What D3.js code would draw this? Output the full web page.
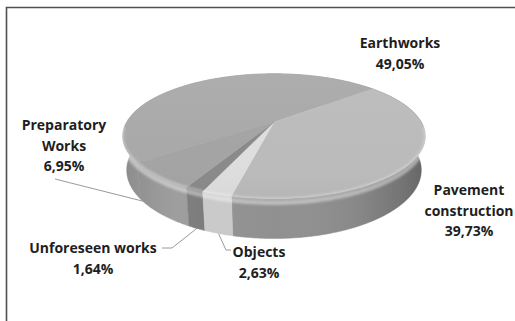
<!DOCTYPE html>
<html>
<head>
<meta charset="utf-8">
<script src="https://cdn.jsdelivr.net/npm/d3@7"></script>
<style>
  html, body { margin: 0; padding: 0; background: #fff; }
  svg { display: block; }
</style>
</head>
<body>
<script>
// Cost structure shares (percent)
const categories = ["Earthworks", "Pavement construction", "Objects", "Unforeseen works", "Preparatory Works"];
const shares = [49.05, 39.73, 2.63, 1.64, 6.95];
const nameLines = [["Earthworks"], ["Pavement", "construction"], ["Objects"], ["Unforeseen works"], ["Preparatory", "Works"]];
const valueLabels = ["49,05%", "39,73%", "2,63%", "1,64%", "6,95%"];

// Slice tones: top face and outer wall
const topColors  = ["#a9a9a9", "#bbbbbb", "#dedede", "#8a8a8a", "#a4a4a4"];
const wallColors = ["#9a9a9a", "#909090", "#c8c8c8", "#777777", "#989898"];

const W = 515, H = 321;
const deg = Math.PI / 180;

// Perspective view of a unit disk
const view = { cx: 274, cy: 122, f: 592, D: 4.02, tilt: 23.7 * deg, depth: 0.25 };

function project(theta, r, level) {
  const x3 = r * Math.sin(theta), z3 = -r * Math.cos(theta), y3 = level;
  const c = Math.cos(view.tilt), s = Math.sin(view.tilt);
  const Yp = y3 * c - z3 * s, Zp = y3 * s + z3 * c;
  const k = view.f / (view.D - Zp);
  return [view.cx + k * x3, view.cy - k * Yp];
}

function arcPoints(a0, a1, level) {
  const n = Math.max(2, Math.ceil(Math.abs(a1 - a0) / (0.5 * deg)));
  return d3.range(n + 1).map(i => project(a0 + (a1 - a0) * i / n, 1, level));
}

const data = categories.map((name, i) => ({ name, value: shares[i], i }));
const startA = 233.4 * deg;
const pie = d3.pie().value(d => d.value).sort(null)
  .startAngle(startA).endAngle(startA + 2 * Math.PI);
const arcs = pie(data);

const line = d3.line();

const svg = d3.select("body").append("svg")
  .attr("width", W).attr("height", H);

const defs = svg.append("defs");

// side shading: darker toward the left and right silhouettes
const sideGrad = defs.append("linearGradient")
  .attr("id", "sideShade").attr("gradientUnits", "userSpaceOnUse")
  .attr("x1", 123).attr("x2", 425).attr("y1", 0).attr("y2", 0);
[[0, "#000", 0.10], [0.18, "#fff", 0.06], [0.5, "#fff", 0.0], [0.78, "#000", 0.06], [0.93, "#000", 0.2], [1, "#000", 0.3]]
  .forEach(([o, c, a]) => sideGrad.append("stop").attr("offset", o).attr("stop-color", c).attr("stop-opacity", a));

// soft sheen on the top face
const topGrad = defs.append("linearGradient")
  .attr("id", "topShade").attr("gradientUnits", "userSpaceOnUse")
  .attr("x1", 0).attr("x2", 0).attr("y1", 73).attr("y2", 200);
[[0, "#fff", 0.05], [0.6, "#fff", 0.0], [1, "#000", 0.03]]
  .forEach(([o, c, a]) => topGrad.append("stop").attr("offset", o).attr("stop-color", c).attr("stop-opacity", a));

defs.append("filter").attr("id", "soft").attr("x", "-10%").attr("y", "-10%").attr("width", "120%").attr("height", "120%")
  .append("feGaussianBlur").attr("stdDeviation", 1.1);

// chart frame
svg.append("path")
  .attr("d", `M6.5,${H} V7.5 H${W}`)
  .attr("fill", "none").attr("stroke", "#505050").attr("stroke-width", 1.6);

const pieG = svg.append("g");
const h = view.depth;

// outer walls, far ones first
const walls = arcs.map(a => {
  const mid = (a.startAngle + a.endAngle) / 2;
  return { a, z: -Math.cos(mid) };
}).sort((p, q) => p.z - q.z);

pieG.selectAll("path.wall").data(walls).join("path")
  .attr("class", "wall")
  .attr("d", d => line([...arcPoints(d.a.startAngle, d.a.endAngle, 0),
                        ...arcPoints(d.a.startAngle, d.a.endAngle, -h).reverse()]) + "Z")
  .attr("fill", d => wallColors[d.a.data.i])
  .attr("stroke", d => wallColors[d.a.data.i]).attr("stroke-width", 0.5);

// wall shading across the whole band
pieG.append("path")
  .attr("d", line([...arcPoints(0, 2 * Math.PI, 0), ...arcPoints(0, 2 * Math.PI, -h).reverse()]) + "Z")
  .attr("fill", "url(#sideShade)");

// light bevel along the upper rim of the wall
pieG.append("path")
  .attr("d", line(arcPoints(80 * deg, 280 * deg, -0.025)))
  .attr("fill", "none").attr("stroke", "#fff").attr("stroke-opacity", 0.4)
  .attr("stroke-width", 4.5).attr("filter", "url(#soft)");

// top faces
const apex = project(0, 0, 0);
pieG.selectAll("path.top").data(arcs).join("path")
  .attr("class", "top")
  .attr("d", d => line([apex, ...arcPoints(d.startAngle, d.endAngle, 0)]) + "Z")
  .attr("fill", d => topColors[d.data.i])
  .attr("stroke", d => topColors[d.data.i]).attr("stroke-width", 0.5);

pieG.append("path")
  .attr("d", line(arcPoints(0, 2 * Math.PI, 0)) + "Z")
  .attr("fill", "url(#topShade)");

// rim highlight on the near edge of the top face
pieG.append("path")
  .attr("d", line(arcPoints(95 * deg, 265 * deg, 0)))
  .attr("fill", "none").attr("stroke", "#fff").attr("stroke-opacity", 0.3)
  .attr("stroke-width", 2.5).attr("filter", "url(#soft)");

// labels and leader lines
const labelLayout = [
  { x: 400, y: 48 },
  { x: 469, y: 195 },
  { x: 259, y: 257, leader: [[231, 250], [226, 250]], at: 0.5 },
  { x: 93,  y: 253, leader: [[162, 248], [172, 248]], at: 0.5 },
  { x: 64,  y: 130, leader: [[55, 179]], at: 0.95 }
];
const lineGap = 20.5;

const labelG = svg.append("g")
  .attr("font-family", "'Open Sans', sans-serif")
  .attr("font-weight", 700)
  .attr("font-size", 14)
  .attr("fill", "#1e1e1e")
  .attr("text-anchor", "middle");

arcs.forEach(a => {
  const i = a.data.i, L = labelLayout[i];
  if (L.leader) {
    const t = a.startAngle + (a.endAngle - a.startAngle) * L.at;
    const anchor = project(t, 1, -h);
    svg.insert("path", "g")
      .attr("d", line([...L.leader, anchor]))
      .attr("fill", "none").attr("stroke", "#9a9a9a").attr("stroke-width", 1);
  }
  const lines = [...nameLines[i], valueLabels[i]];
  const txt = labelG.append("text").attr("x", L.x).attr("y", L.y);
  lines.forEach((s, k) => {
    txt.append("tspan").attr("x", L.x).attr("y", L.y + k * lineGap).text(s);
  });
});
</script>
</body>
</html>
